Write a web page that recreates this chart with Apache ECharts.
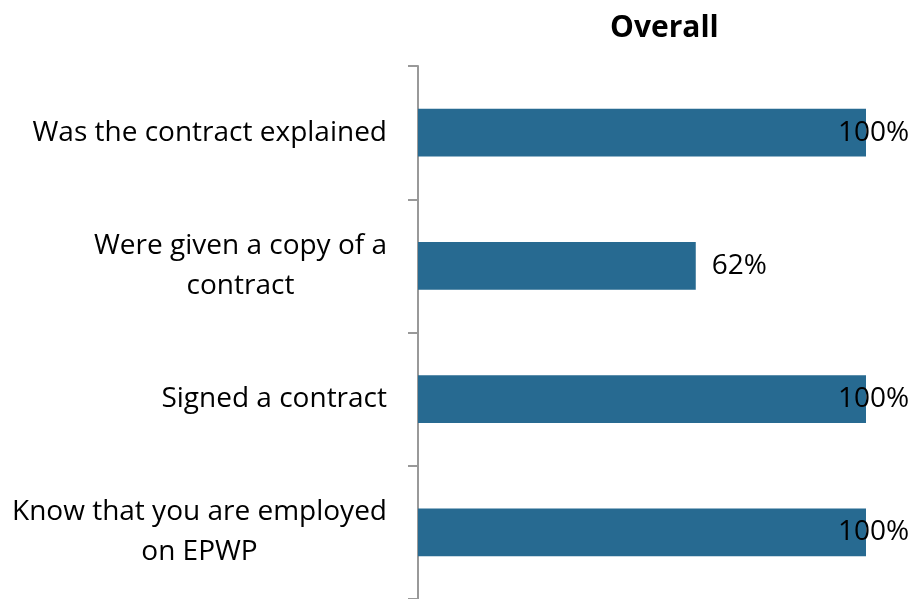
<!DOCTYPE html>
<html>
<head>
<meta charset="utf-8">
<script src="https://cdn.jsdelivr.net/npm/echarts@6/dist/echarts.min.js"></script>
<style>
  html, body { margin: 0; padding: 0; background: #fff; }
  #main { width: 913px; height: 599px; }
</style>
</head>
<body>
<div id="main"></div>
<script>
const categories = [
  'Was the contract explained',
  'Were given a copy of a\ncontract',
  'Signed a contract',
  'Know that you are employed\non EPWP'
];
const values = [100, 62, 100, 100];
const chartTitle = 'Overall';

const chart = echarts.init(document.getElementById('main'));

const FONT = '"Open Sans"';

const option = {
  backgroundColor: '#ffffff',
  animation: false,
  title: {
    text: chartTitle,
    left: 605,
    top: 8,
    textStyle: { fontFamily: FONT, fontSize: 30, fontWeight: 'bold', color: '#000' }
  },
  grid: { left: 418, right: 47, top: 66, bottom: 0, containLabel: false },
  xAxis: {
    type: 'value',
    min: 0,
    max: 100,
    show: false
  },
  yAxis: {
    type: 'category',
    inverse: true,
    data: categories,
    axisLine: { show: true, lineStyle: { color: '#999', width: 2 } },
    axisTick: { show: true, length: 10, lineStyle: { color: '#999', width: 2 } },
    axisLabel: {
      margin: 31,
      color: '#000',
      align: 'right',
      // centre each line inside the right-aligned block
      formatter: s => s.split('\n').map(l => '{c|' + l + '}').join('\n'),
      rich: {
        c: { fontFamily: FONT, fontSize: 28, lineHeight: 40, color: '#000', align: 'center' }
      }
    }
  },
  series: [{
    type: 'bar',
    barWidth: '36%',
    itemStyle: { color: '#276A91' },
    data: values.map(v => ({
      value: v,
      label: {
        show: true,
        position: 'right',
        distance: 16,
        offset: v >= 100 ? [-44, 0] : [0, 0],
        formatter: '{c}%',
        fontFamily: FONT,
        fontSize: 28,
        color: '#000'
      }
    }))
  }]
};

chart.setOption(option);
</script>
</body>
</html>
